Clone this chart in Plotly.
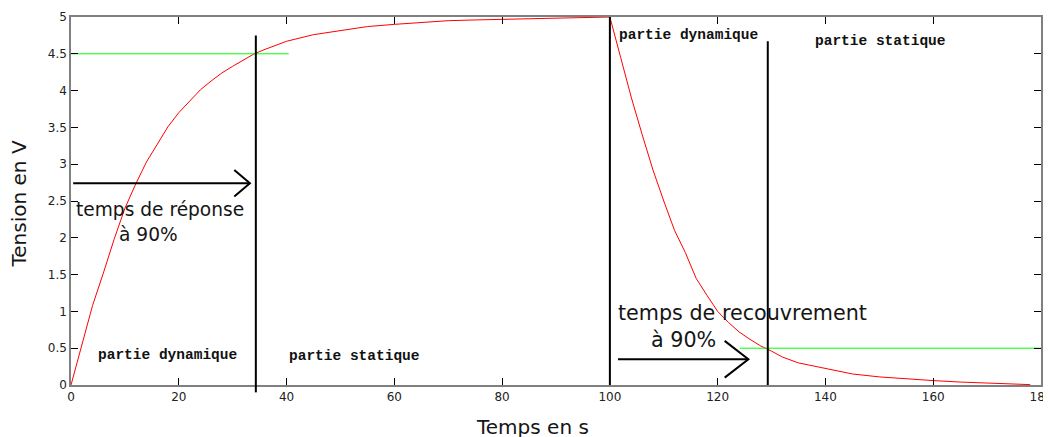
import plotly.graph_objects as go

# ---- data ----
rise_t = [0, 2, 4, 6, 8, 10, 12, 14, 16, 18, 20, 22, 24, 26, 28, 30, 32, 34, 36, 38, 40,
          45, 50, 55, 60, 65, 70, 75, 80, 85, 90, 95, 100]
rise_v = [0, 0.55, 1.08, 1.52, 1.98, 2.40, 2.73, 3.03, 3.28, 3.51, 3.70, 3.86, 4.01, 4.13,
          4.24, 4.33, 4.42, 4.50, 4.56, 4.62, 4.67, 4.76, 4.82, 4.87, 4.90, 4.93, 4.95,
          4.96, 4.97, 4.98, 4.99, 5.0, 5.0]
fall_t = [102, 104, 106, 108, 110, 112, 114, 116, 118, 120, 122, 124, 126, 128, 130,
          132, 135, 140, 145, 150, 155, 160, 165, 170, 175, 178]
fall_v = [4.45, 3.90, 3.40, 2.92, 2.50, 2.10, 1.80, 1.45, 1.22, 1.00, 0.85, 0.72, 0.62,
          0.53, 0.46, 0.38, 0.30, 0.22, 0.15, 0.11, 0.08, 0.06, 0.04, 0.025, 0.012, 0.005]

x_ticks = [0, 20, 40, 60, 80, 100, 120, 140, 160, 180]
y_ticks = [0, 0.5, 1, 1.5, 2, 2.5, 3, 3.5, 4, 4.5, 5]
y_tick_labels = ["0", "0.5", "1", "1.5", "2", "2.5", "3", "3.5", "4", "4.5", "5"]

# threshold lines (90 % levels)
thr_high_v = 4.5
thr_high_x = [0, 40.4]
thr_low_v = 0.5
thr_low_x = [124.1, 180]

# vertical markers: time, top value
marker_t = [34.3, 100, 129.3]
marker_top = [4.75, 5.0, 4.67]

# arrows: x start, x end, y level, head length (x units), head half-height (y units)
arrow_x0 = [0.4, 101.5]
arrow_x1 = [33.2, 125.7]
arrow_y = [2.74, 0.35]
arrow_hx = [2.9, 4.4]
arrow_hy = [0.18, 0.25]

# texts
big_texts = ["temps de réponse", "à 90%", "temps de recouvrement", "à 90%"]
big_x = [16.6, 14.4, 124.7, 113.7]
big_y = [2.39, 2.05, 0.98, 0.61]
big_size = [18.6, 18.6, 20.7, 20.7]
mono_texts = ["partie dynamique", "partie statique", "partie dynamique", "partie statique"]
mono_x = [17.95, 52.7, 114.5, 150.3]
mono_y = [0.41, 0.40, 4.75, 4.67]

fig = go.Figure()

# curve
fig.add_trace(go.Scatter(x=rise_t + fall_t, y=rise_v + fall_v, mode="lines",
                         line=dict(color="#ff0000", width=1), showlegend=False))
# green thresholds
fig.add_trace(go.Scatter(x=thr_high_x, y=[thr_high_v] * 2, mode="lines",
                         line=dict(color="#00ff00", width=1), showlegend=False))
fig.add_trace(go.Scatter(x=thr_low_x, y=[thr_low_v] * 2, mode="lines",
                         line=dict(color="#00ff00", width=1), showlegend=False))

# vertical black markers
for t, top in zip(marker_t, marker_top):
    fig.add_shape(type="line", xref="x", yref="y", x0=t, x1=t, y0=0, y1=top,
                  line=dict(color="black", width=2))
# first marker overhangs below the axis
fig.add_shape(type="line", xref="x", yref="paper", x0=marker_t[0], x1=marker_t[0],
              y0=-0.02, y1=0.0, line=dict(color="black", width=2))

# arrows (open chevron heads)
for x0, x1, yv, hx, hy in zip(arrow_x0, arrow_x1, arrow_y, arrow_hx, arrow_hy):
    fig.add_trace(go.Scatter(x=[x0, x1], y=[yv, yv], mode="lines",
                             line=dict(color="black", width=2), showlegend=False))
    fig.add_trace(go.Scatter(x=[x1 - hx, x1, x1 - hx], y=[yv + hy, yv, yv - hy],
                             mode="lines", line=dict(color="black", width=2),
                             showlegend=False))

for txt, x, y, s in zip(big_texts, big_x, big_y, big_size):
    fig.add_annotation(x=x, y=y, text=txt, showarrow=False, xanchor="center",
                       yanchor="middle",
                       font=dict(family="DejaVu Sans", size=s, color="#151515"))
for txt, x, y in zip(mono_texts, mono_x, mono_y):
    fig.add_annotation(x=x, y=y, text="<b>" + txt + "</b>", showarrow=False,
                       xanchor="center", yanchor="middle",
                       font=dict(family="Liberation Mono", size=14.5, color="#111111"))

# axis titles
fig.add_annotation(xref="paper", yref="paper", x=0.476, y=-0.114, text="Temps en s",
                   showarrow=False, xanchor="center", yanchor="middle",
                   font=dict(family="DejaVu Sans", size=20, color="#151515"))
fig.add_annotation(xref="paper", yref="paper", x=-0.0536, y=0.4905, text="Tension en V",
                   showarrow=False, xanchor="center", yanchor="middle", textangle=-90,
                   font=dict(family="DejaVu Sans", size=20, color="#151515"))

axis_common = dict(showgrid=False, zeroline=False, showline=True, linecolor="#808080",
                   linewidth=1.5, mirror="ticks", ticks="inside", ticklen=7,
                   tickcolor="black", tickwidth=1, ticklabeloverflow="allow",
                   automargin=False,
                   tickfont=dict(family="DejaVu Sans", size=12, color="#222222"))

fig.update_layout(
    width=1043, height=429,
    margin=dict(l=63, r=10, t=9, b=52, autoexpand=False),
    paper_bgcolor="white", plot_bgcolor="white",
    showlegend=False,
    xaxis=dict(range=[0, 180], tickvals=x_ticks, ticktext=[str(v) for v in x_ticks],
               **axis_common),
    yaxis=dict(range=[0, 5], tickvals=y_ticks, ticktext=y_tick_labels, **axis_common),
)

fig.write_html("out.html")
